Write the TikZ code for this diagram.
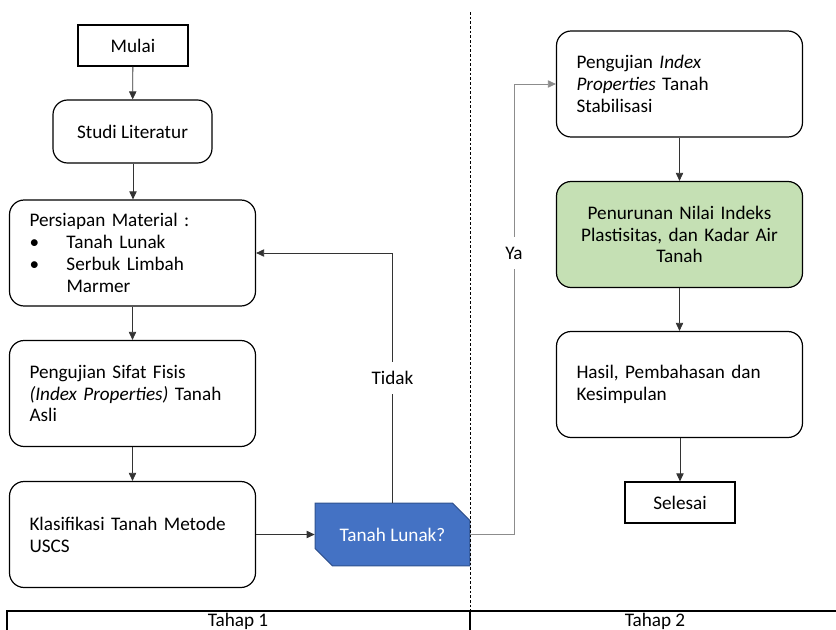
\documentclass[tikz,border=0pt]{standalone}
\usepackage{fontspec}
\setmainfont{Carlito}
\usetikzlibrary{arrows.meta, shapes.misc}

\definecolor{tanyablue}{HTML}{4472C4}
\definecolor{tanyaedge}{HTML}{2F528F}
\definecolor{hasilgreen}{HTML}{C5E0B4}

\begin{document}
\begin{tikzpicture}[
    x=0.75pt, y=-0.75pt,
    font=\fontsize{14.4pt}{16.4pt}\selectfont,
    terminal/.style={draw, line width=0.9pt, minimum width=82.5pt,
                     minimum height=30.75pt, inner sep=0pt},
    proses/.style={draw, rounded corners=11pt, line width=0.9pt,
                   minimum height=79.5pt, text width=154.5pt,
                   inner xsep=15pt, align=left},
    keputusan/.style={chamfered rectangle, chamfered rectangle corners={north east, south west},
                      chamfered rectangle xsep=8pt, chamfered rectangle ysep=8pt,
                      draw=tanyaedge, fill=tanyablue, text=white, line width=0.8pt,
                      minimum width=116pt, minimum height=47pt, inner sep=0pt},
    arr/.style={-{Triangle[length=6pt, width=5.5pt]}, line width=0.6pt, black!80},
    label/.style={fill=white, inner xsep=2pt, inner ysep=7pt},
  ]
  \useasboundingbox (0,0) rectangle (836,629);

  % tahap 1
  \node[terminal] (mulai) at (133,45.5) {Mulai};
  \node[draw, rounded corners=11pt, line width=0.9pt, minimum width=119.25pt,
        minimum height=47.25pt] (studi) at (132.5,131.5) {Studi Literatur};
  \node[proses] (persiapan) at (132.5,253)
    {Persiapan Material :\\
     \makebox[27.75pt][l]{\textbullet}Tanah Lunak\\
     \makebox[27.75pt][l]{\textbullet}Serbuk Limbah\\
     \hspace*{27.75pt}Marmer};
  \node[proses] (sifat) at (132.5,393.5)
    {Pengujian Sifat Fisis\\ \textit{(Index Properties)} Tanah\\ Asli};
  \node[proses] (uscs) at (132.5,534.5) {Klasifikasi Tanah Metode\\ USCS};
  \node[keputusan] (tanya) at (392.5,534.5) {Tanah Lunak?};

  % tahap 2
  \node[proses] (pidx) at (679.5,84)
    {Pengujian \textit{Index}\\ \textit{Properties} Tanah\\ Stabilisasi};
  \node[proses, fill=hasilgreen, align=center] (turun) at (679.5,234.5)
    {Penurunan Nilai Indeks\\ Plastisitas, dan Kadar Air\\ Tanah};
  \node[proses] (hasil) at (679.5,384.5) {Hasil, Pembahasan dan\\ Kesimpulan};
  \node[terminal] (selesai) at (680,502.5) {Selesai};

  % pemisah tahap
  \draw[dashed, line width=0.5pt, dash pattern=on 2pt off 1.5pt] (470,12) -- (470,611);
  \draw[line width=0.9pt] (7,640) -- (7,611) -- (840,611);
  \draw[line width=0.9pt] (470,611) -- (470,640);
  \node[anchor=base] (tahap1) at (238,626) {Tahap 1};
  \node[anchor=base] (tahap2) at (655,626) {Tahap 2};

  % alur
  \draw[arr] (mulai) -- (studi);
  \draw[arr] (studi.south -| mulai.south) -- (persiapan.north -| mulai.south);
  \draw[arr] (persiapan) -- (sifat);
  \draw[arr] (sifat) -- (uscs);
  \draw[arr] (uscs) -- (tanya);
  \draw[arr] (tanya.north) |- (persiapan.east);
  \coordinate (belok) at (514,534.5);
  \draw[arr, black!45] (tanya.east) -- (belok) |- (pidx.west);
  \draw[arr] (pidx) -- (turun);
  \draw[arr] (turun) -- (hasil);
  \draw[arr] (hasil.south -| selesai.north) -- (selesai);
  \node[label] (tidak) at (392.5,378) {Tidak};
  \node[label] (ya) at (514,253) {Ya};
\end{tikzpicture}
\end{document}
